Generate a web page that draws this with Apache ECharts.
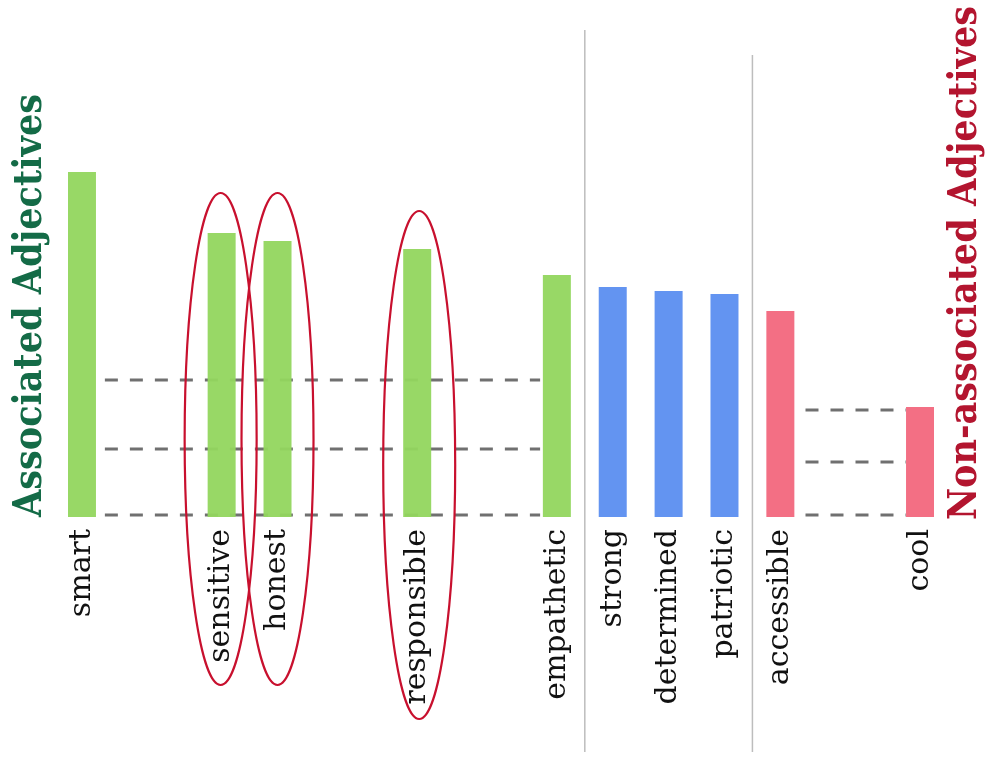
<!DOCTYPE html>
<html>
<head>
<meta charset="utf-8">
<script src="https://cdn.jsdelivr.net/npm/echarts@6/dist/echarts.min.js"></script>
<style>html,body{margin:0;padding:0;background:#fff}#c{width:987px;height:757px}</style>
</head>
<body>
<div id="c"></div>
<script>
// ---- data ----
const labels = ['smart','sensitive','honest','responsible','empathetic','strong','determined','patriotic','accessible','cool'];
const slots  = [0, 5, 7, 12, 17, 19, 21, 23, 25, 30];
const values = [345, 284, 276, 268, 242, 230, 226, 223, 206, 110];
const groups = ['assoc','assoc','assoc','assoc','assoc','neutral','neutral','neutral','non','non'];
const circled = ['sensitive','honest','responsible'];
const leftLevels = [137, 68, 2];
const rightLevels = [107, 55, 2];
const totalSlots = 31;

const colors = {assoc:'#92d65e', neutral:'#5b8ef0', non:'#f2677d'};

const cats = new Array(totalSlots).fill('');
const barData = new Array(totalSlots).fill(null);
labels.forEach((l,i)=>{
  cats[slots[i]] = l;
  barData[slots[i]] = {value: values[i], itemStyle:{color: colors[groups[i]]}};
});

const dashSeries = [];
leftLevels.forEach(v=>dashSeries.push({type:'line', xAxisIndex:1, yAxisIndex:0, symbol:'none', silent:true, z:1,
  lineStyle:{color:'#707070', width:3, type:[13,12]}, data:[[1.32,v],[16.9,v]]}));
rightLevels.forEach(v=>dashSeries.push({type:'line', xAxisIndex:1, yAxisIndex:0, symbol:'none', silent:true, z:1,
  lineStyle:{color:'#707070', width:3, type:[13,12]}, data:[[26.4,v],[30.0,v]]}));

const chart = echarts.init(document.getElementById('c'));
chart.setOption({
  animation:false,
  backgroundColor:'#fff',
  grid:{left:68, right:53, top:117, bottom:240},
  xAxis:[{type:'category', data:cats, axisLine:{show:false}, axisTick:{show:false},
    axisLabel:{interval:0, rotate:90, margin:12, fontFamily:'DejaVu Serif', fontSize:30, color:'#111'}},
    {type:'value', min:0, max:totalSlots, show:false}],
  yAxis:{type:'value', min:0, max:400, show:false},
  series:[{type:'bar', data:barData, barWidth:28, z:5, itemStyle:{opacity:0.95}}].concat(dashSeries)
});

function px(slot, v){ return chart.convertToPixel({xAxisIndex:0, yAxisIndex:0}, [slot, v]); }
const g = [];
// separators
const s1 = px(18, 0)[0], s2 = px(24, 0)[0];
g.push({type:'line', shape:{x1:s1, y1:30, x2:s1, y2:752}, style:{stroke:'#bdbdbd', lineWidth:1.5}});
g.push({type:'line', shape:{x1:s2, y1:55, x2:s2, y2:752}, style:{stroke:'#bdbdbd', lineWidth:1.5}});
// ellipses
const ell = {sensitive:{dx:-1, cy:439, ry:246}, honest:{dx:0, cy:439, ry:246}, responsible:{dx:2, cy:465, ry:254}};
circled.forEach(n=>{
  const i = labels.indexOf(n);
  const x = px(slots[i], 0)[0];
  const e = ell[n];
  g.push({type:'ellipse', z:10, shape:{cx:x+e.dx, cy:e.cy, rx:36, ry:e.ry}, style:{fill:null, stroke:'#c8102e', lineWidth:2.2}});
});
// titles
g.push({type:'text', x:50, y:517, rotation:Math.PI/2, z:10, style:{text:'Associated Adjectives', fill:'#146b47',
  font:'bold 39px "DejaVu Serif Condensed", "DejaVu Serif"', textAlign:'left', textVerticalAlign:'bottom'}});
g.push({type:'text', x:985, y:520, rotation:Math.PI/2, z:10, style:{text:'Non-associated Adjectives', fill:'#b3152f',
  font:'bold 39px "DejaVu Serif Condensed", "DejaVu Serif"', textAlign:'left', textVerticalAlign:'bottom'}});
chart.setOption({graphic:g});
</script>
</body>
</html>
